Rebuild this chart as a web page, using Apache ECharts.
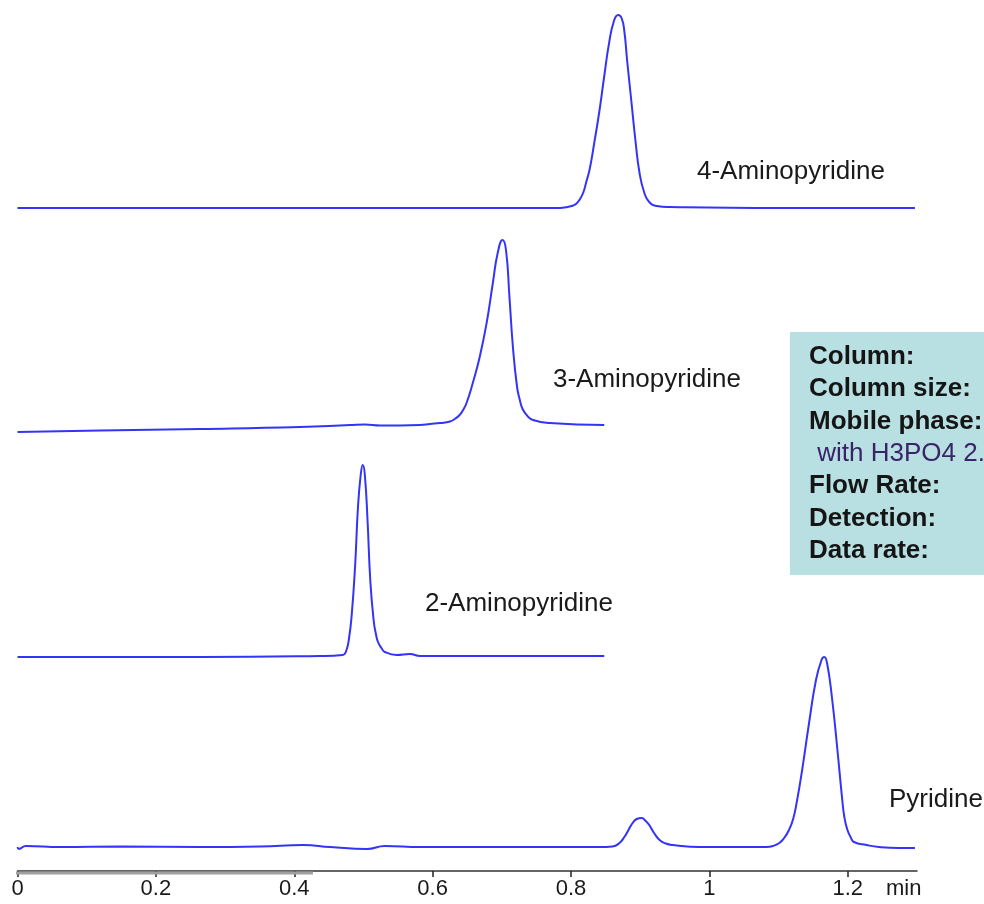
<!DOCTYPE html>
<html>
<head>
<meta charset="utf-8">
<script src="https://cdn.jsdelivr.net/npm/echarts@6/dist/echarts.min.js"></script>
<style>
html,body{margin:0;padding:0;background:#fff;}
#chart{width:984px;height:904px;}
</style>
</head>
<body>
<div id="chart"></div>
<script>
// x tick labels (min)
const xTicks = [0, 0.2, 0.4, 0.6, 0.8, 1, 1.2];

// Traces: [time (min), stacked detector signal (a.u.)]
const aminopyridine4 = [
  [0, 663], [0.40, 663], [0.78, 663], [0.790, 663.5], [0.798, 664.5], [0.803, 665.5],
  [0.808, 667.5], [0.813, 672], [0.818, 679], [0.822, 689],
  [0.827, 702], [0.834, 730], [0.841, 760], [0.848, 795], [0.855, 828],
  [0.862, 850], [0.868, 856], [0.873, 853], [0.877, 840], [0.881, 811],
  [0.887, 771], [0.893, 731], [0.899, 698], [0.906, 678], [0.913, 669],
  [0.924, 665], [0.942, 664], [1.10, 663], [1.297, 663]
];
const aminopyridine3 = [
  [0, 439], [0.12, 440.5], [0.264, 442], [0.408, 444], [0.481, 446],
  [0.502, 446.5], [0.524, 445.5], [0.582, 446], [0.596, 447], [0.611, 448],
  [0.625, 449.5], [0.632, 452], [0.639, 456], [0.644, 461], [0.649, 468],
  [0.658, 488], [0.668, 514], [0.678, 548],
  [0.687, 588], [0.694, 618], [0.701, 631], [0.706, 621], [0.711, 574],
  [0.716, 524], [0.722, 484], [0.726, 471], [0.730, 462], [0.737, 455],
  [0.745, 451], [0.769, 448], [0.848, 446]
];
const aminopyridine2 = [
  [0, 214], [0.264, 214], [0.437, 215], [0.470, 216], [0.475, 220], [0.479, 232],
  [0.483, 256], [0.488, 306], [0.492, 363], [0.496, 396], [0.499, 406],
  [0.502, 396], [0.506, 349], [0.510, 289], [0.515, 249], [0.518, 237],
  [0.521, 229], [0.526, 223], [0.531, 219], [0.548, 216], [0.567, 217],
  [0.582, 215], [0.848, 215]
];
const pyridine = [
  [0, 24], [0.002, 22], [0.012, 25], [0.062, 24], [0.149, 24.5], [0.264, 24],
  [0.351, 24.5], [0.413, 26], [0.452, 24], [0.505, 22], [0.531, 25],
  [0.582, 24], [0.697, 24], [0.784, 24], [0.841, 24], [0.860, 24.5],
  [0.870, 28], [0.877, 34], [0.883, 41], [0.889, 48], [0.895, 52], [0.902, 53],
  [0.908, 50], [0.913, 46], [0.920, 38], [0.928, 31], [0.937, 27.5],
  [0.947, 26], [0.986, 24], [1.033, 24], [1.082, 24], [1.092, 25], [1.101, 28],
  [1.108, 33], [1.115, 41], [1.121, 52], [1.126, 68], [1.134, 101], [1.144, 148],
  [1.154, 191], [1.162, 211], [1.166, 214], [1.170, 208], [1.177, 174],
  [1.185, 121], [1.192, 71], [1.195, 54], [1.199, 42], [1.204, 34], [1.209, 29],
  [1.227, 26], [1.245, 24], [1.274, 23], [1.297, 23]
];
// scrollbar-like accent on the time axis
const axisAccent = [[-0.008, -2], [0.427, -2]];

const traceNames = ['4-Aminopyridine', '3-Aminopyridine', '2-Aminopyridine', 'Pyridine'];
const traces = [aminopyridine4, aminopyridine3, aminopyridine2, pyridine];

const FONT = '"Liberation Sans", Arial, sans-serif';
const chart = echarts.init(document.getElementById('chart'));

const lineSeries = traces.map((d, i) => ({
  name: traceNames[i],
  type: 'line',
  data: d,
  symbol: 'none',
  smooth: 0.5,
  silent: true,
  lineStyle: { color: '#3434f6', width: 2 },
  z: 3
}));

const labelPos = [
  [697, 172], [553, 380], [425, 604], [889, 800]
];
const infoLines = [
  ['Column:', true], ['Column size:', true], ['Mobile phase:', true],
  [' with H3PO4 2.', false], ['Flow Rate:', true], ['Detection:', true], ['Data rate:', true]
];

const graphics = [];
traceNames.forEach((n, i) => {
  graphics.push({
    type: 'text', x: labelPos[i][0], y: labelPos[i][1], silent: true,
    style: { text: n, fill: '#1a1a1a', font: '26px ' + FONT, verticalAlign: 'middle' }
  });
});
graphics.push({
  type: 'rect', x: 790, y: 332, silent: true,
  shape: { width: 220, height: 243 },
  style: { fill: '#b8dfe1' }
});
infoLines.forEach((l, i) => {
  graphics.push({
    type: 'text', x: l[1] ? 809 : 810, y: 357 + i * 32.3, silent: true,
    style: {
      text: l[0], fill: l[1] ? '#151515' : '#3a2468',
      font: (l[1] ? 'bold ' : '') + '26px ' + FONT, verticalAlign: 'middle'
    }
  });
});
graphics.push({
  type: 'text', x: 886, y: 889, silent: true,
  style: { text: 'min', fill: '#1a1a1a', font: '22px ' + FONT, verticalAlign: 'middle' }
});

chart.setOption({
  animation: false,
  backgroundColor: '#ffffff',
  grid: { left: 17.5, right: 67, top: 0, bottom: 31 },
  xAxis: {
    type: 'value',
    min: 0,
    max: 1.3,
    axisLine: { show: true, lineStyle: { color: '#333333', width: 1.5 } },
    axisTick: { show: true, length: 6, customValues: xTicks, lineStyle: { color: '#222222', width: 1.5 } },
    axisLabel: {
      customValues: xTicks,
      fontSize: 22, fontFamily: FONT, color: '#1a1a1a', margin: 5
    },
    splitLine: { show: false }
  },
  yAxis: {
    type: 'value', min: -2, max: 871, show: false,
    splitLine: { show: false }
  },
  series: lineSeries.concat([{
    name: 'axis accent',
    type: 'line',
    data: axisAccent,
    symbol: 'none',
    clip: false,
    silent: true,
    lineStyle: { color: '#a0a0a0', width: 3 },
    z: 2
  }]),
  graphic: graphics
});
</script>
</body>
</html>
